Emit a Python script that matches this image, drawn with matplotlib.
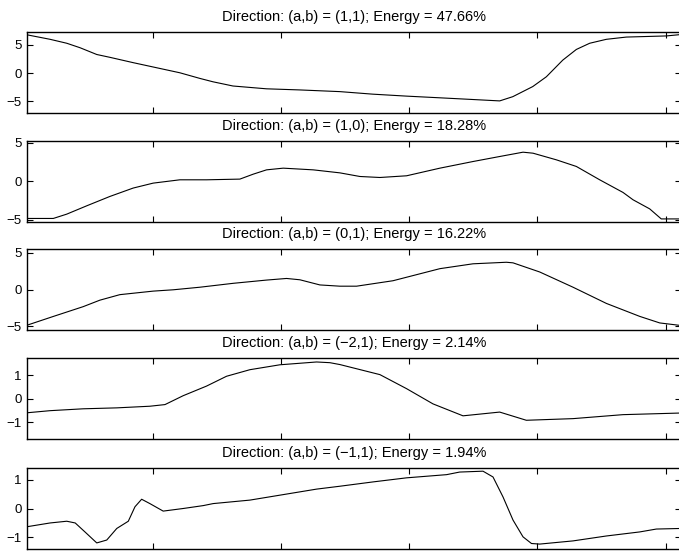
import numpy as np
import matplotlib.pyplot as plt

plt.rcParams['font.family'] = ['Liberation Sans', 'DejaVu Sans']
plt.rcParams['axes.unicode_minus'] = True

titles = [
    "Direction: (a,b) = (1,1); Energy = 47.66%",
    "Direction: (a,b) = (1,0); Energy = 18.28%",
    "Direction: (a,b) = (0,1); Energy = 16.22%",
    "Direction: (a,b) = (\u22122,1); Energy = 2.14%",
    "Direction: (a,b) = (\u22121,1); Energy = 1.94%",
]

# projection profiles along each direction
x1 = [1, 10, 16.5, 21.7, 28.2, 33.3, 42.4, 51.5, 60.6, 68.4, 73.5, 81.3, 94.4, 107.4,
      123, 135.8, 149, 162, 174.8, 185.3, 190.4, 198.2, 203.5, 209.9, 215.2, 220.4,
      226.9, 234.7, 250.3, 256]
y1 = [6.8, 6.0, 5.3, 4.5, 3.3, 2.8, 1.85, 0.95, 0.05, -0.95, -1.55, -2.3, -2.8, -3.0,
      -3.3, -3.75, -4.1, -4.4, -4.7, -4.95, -4.2, -2.4, -0.66, 2.3, 4.2, 5.3,
      6.0, 6.4, 6.6, 6.85]

x2 = [1, 11.25, 16.5, 24.3, 33.3, 42.4, 50.2, 60.6, 71, 84, 89.2, 94.4, 100.9, 112.6,
      123, 130.8, 138.6, 149, 162, 174.9, 185.3, 194.4, 198.3, 207.4, 215.2, 224.3,
      233.4, 237.3, 243.8, 248.3, 256]
y2 = [-4.84, -4.84, -4.28, -3.2, -1.99, -0.9, -0.26, 0.17, 0.17, 0.26, 0.9, 1.46, 1.68,
      1.46, 1.07, 0.6, 0.47, 0.69, 1.68, 2.54, 3.19, 3.75, 3.62, 2.76, 1.9, 0.17,
      -1.47, -2.42, -3.6, -4.9, -4.9]

x3 = [1, 11.25, 22.9, 29.4, 37.2, 50.2, 58, 68.4, 81.4, 94.4, 102.2, 107.4, 115.2,
      123, 129.5, 143.7, 162, 174.9, 187.9, 190.5, 200.9, 213.9, 226.9, 239.9, 247.7, 256]
y3 = [-4.85, -3.66, -2.33, -1.45, -0.7, -0.22, -0.04, 0.31, 0.84, 1.28, 1.5, 1.32, 0.62,
      0.45, 0.45, 1.19, 2.83, 3.49, 3.7, 3.62, 2.38, 0.31, -1.89, -3.65, -4.54, -4.89]

x4 = [1, 10, 22.9, 36, 48.9, 54.8, 61.9, 71, 78.8, 87.9, 99.6, 113.9, 119.1, 123,
      138.6, 149, 159.3, 171, 185.3, 195.7, 213.9, 233.4, 256]
y4 = [-0.6, -0.51, -0.43, -0.39, -0.32, -0.25, 0.13, 0.54, 0.96, 1.24, 1.45, 1.57, 1.54,
      1.46, 1.03, 0.43, -0.22, -0.73, -0.57, -0.92, -0.85, -0.68, -0.61]

x5 = [1, 10, 16.5, 19.8, 23.6, 28.2, 32.1, 36, 40.5, 43.1, 45.7, 48.9, 54.1, 61.9, 69.7,
      73.6, 87.9, 100.9, 113.9, 123, 136, 149, 164.6, 169.7, 178.8, 182.7, 186.6,
      190.5, 194.4, 197.7, 200.9, 213.9, 226.9, 239.9, 246.4, 256]
y5 = [-0.63, -0.5, -0.44, -0.5, -0.81, -1.19, -1.09, -0.69, -0.44, 0.06, 0.32, 0.17,
      -0.09, 0.0, 0.1, 0.17, 0.29, 0.48, 0.67, 0.77, 0.92, 1.06, 1.17, 1.26, 1.29, 1.09,
      0.4, -0.4, -0.98, -1.21, -1.23, -1.12, -0.95, -0.81, -0.71, -0.69]

series = [(x1, y1), (x2, y2), (x3, y3), (x4, y4), (x5, y5)]
ylims = [(-7.1, 7.3), (-5.3, 5.2), (-5.5, 5.5), (-1.72, 1.74), (-1.4, 1.4)]
yticks = [[-5, 0, 5], [-5, 0, 5], [-5, 0, 5], [-1, 0, 1], [-1, 0, 1]]
xticks = [50, 100, 150, 200, 250]

W, H = 679, 552
fig = plt.figure(figsize=(W / 100, H / 100), dpi=100)

# axes frame in pixels; the right edge runs just past the figure border
left, right = 27, 681
tops = [32, 141, 249, 358, 468]
height = 81

for i, ((xs, ys), title) in enumerate(zip(series, titles)):
    top = tops[i]
    ax = fig.add_axes([left / W, 1 - (top + height) / H, (right - left) / W, height / H])
    ax.plot(xs, ys, color='black', lw=0.8)
    ax.set_xlim(1, 256)
    ax.set_ylim(*ylims[i])
    ax.set_xticks(xticks)
    ax.set_xticklabels([])
    ax.set_yticks(yticks[i])
    ax.set_yticklabels([str(v).replace('-', '\u2212') for v in yticks[i]])
    ax.tick_params(direction='in', top=True, right=True, length=4, width=0.8,
                   labelsize=9.5, pad=4)
    for s in ax.spines.values():
        s.set_linewidth(1.0)
    ax.set_title(title, fontsize=10.5, pad=8)

fig.savefig('out.png', dpi=100)
